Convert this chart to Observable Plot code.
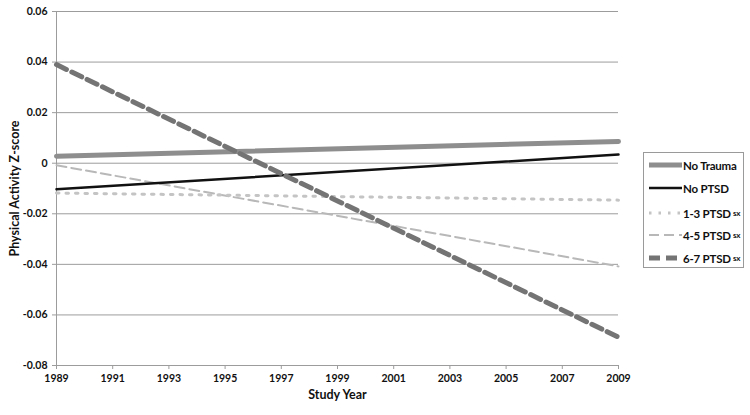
<!DOCTYPE html>
<html>
<head>
<meta charset="utf-8">
<script src="https://cdn.jsdelivr.net/npm/d3@7"></script>
<script src="https://cdn.jsdelivr.net/npm/@observablehq/plot@0.6"></script>
<style>
  body { margin: 0; background: #fff; }
  #wrap { position: relative; width: 750px; height: 415px; font-family: Lato, "Liberation Sans", sans-serif; }
  #legend { position: absolute; left: 643px; top: 152px; width: 101px; height: 116px; border: 1px solid #9a9a9a; box-sizing: border-box; background: #fff; }
  .item { position: absolute; left: 4px; height: 14px; display: flex; align-items: center; font-weight: bold; font-size: 11.5px; color: #111; white-space: nowrap; letter-spacing: -0.2px; }
  .item svg { margin-right: 1px; }
  .sx { font-size: 8px; margin-left: 2px; }
</style>
</head>
<body>
<div id="wrap"></div>
<script>
const years = [1989, 2009];
const seriesNames = ["No Trauma", "No PTSD", "1-3 PTSD sx", "4-5 PTSD sx", "6-7 PTSD sx"];
const noTrauma = [0.0028, 0.0086];
const noPTSD = [-0.0103, 0.0034];
const ptsd13 = [-0.0118, -0.0146];
const ptsd45 = [-0.0008, -0.0408];
const ptsd67 = [0.0390, -0.0688];
const xTicks = [1989, 1991, 1993, 1995, 1997, 1999, 2001, 2003, 2005, 2007, 2009];
const yTicks = [0.06, 0.04, 0.02, 0, -0.02, -0.04, -0.06, -0.08];

const styles = [
  {stroke: "#8e8e8e", strokeWidth: 5, dash: null},
  {stroke: "#111111", strokeWidth: 2.5, dash: null},
  {stroke: "#c4c4c4", strokeWidth: 3, dash: "2.5,7"},
  {stroke: "#b8b8b8", strokeWidth: 2, dash: "10,5"},
  {stroke: "#747474", strokeWidth: 5, dash: "11,6"}
];
const values = [noTrauma, noPTSD, ptsd13, ptsd45, ptsd67];
const rows = (i) => years.map((y, j) => ({year: y, value: values[i][j], series: seriesNames[i]}));

const drawOrder = [3, 2, 1, 0, 4];
const lineMarks = drawOrder.map(i => Plot.line(rows(i), {
  x: "year", y: "value",
  stroke: styles[i].stroke,
  strokeWidth: styles[i].strokeWidth,
  strokeDasharray: styles[i].dash
}));

const chart = Plot.plot({
  width: 750,
  height: 415,
  marginLeft: 56,
  marginRight: 132,
  marginTop: 11,
  marginBottom: 50,
  style: {fontFamily: "Lato, 'Liberation Sans', sans-serif", fontWeight: "bold", fontSize: "10.5px", color: "#111", background: "#fff"},
  x: {domain: [1989, 2009]},
  y: {domain: [-0.08, 0.06]},
  marks: [
    Plot.ruleY(yTicks, {stroke: "#9c9c9c", strokeWidth: 1}),
    Plot.ruleX([1989], {stroke: "#9c9c9c", strokeWidth: 1}),
    Plot.axisX({ticks: xTicks, tickFormat: d => String(d), tickSize: 4, tickPadding: 5, stroke: "#9c9c9c", label: "Study Year", labelAnchor: "center", labelArrow: "none", labelOffset: 33}),
    Plot.axisY({ticks: yTicks, tickFormat: d => d === 0 ? "0" : d.toFixed(2), tickSize: 4, tickPadding: 5, stroke: "#9c9c9c", label: "Physical Activity Z-score", labelAnchor: "center", labelArrow: "none", labelOffset: 46}),
    ...lineMarks
  ]
});

const wrap = document.getElementById("wrap");
wrap.appendChild(chart);
d3.select(chart).selectAll("g[aria-label='x-axis label'] text, g[aria-label='y-axis label'] text").style("font-size", "12.5px");

const legend = document.createElement("div");
legend.id = "legend";
const tops = [5, 28, 53, 75, 98];
seriesNames.forEach((name, i) => {
  const item = document.createElement("div");
  item.className = "item";
  item.style.top = tops[i] + "px";
  const s = styles[i];
  const svg = d3.create("svg").attr("width", 34).attr("height", 14);
  svg.append("line").attr("x1", 1).attr("x2", 34).attr("y1", 7).attr("y2", 7)
    .attr("stroke", s.stroke).attr("stroke-width", s.strokeWidth)
    .attr("stroke-dasharray", s.dash);
  item.appendChild(svg.node());
  const m = name.match(/^(.*) sx$/);
  const label = document.createElement("span");
  if (m) {
    label.textContent = m[1];
    const sx = document.createElement("span");
    sx.className = "sx";
    sx.textContent = "sx";
    item.appendChild(label);
    item.appendChild(sx);
  } else {
    label.textContent = name;
    item.appendChild(label);
  }
  legend.appendChild(item);
});
wrap.appendChild(legend);
</script>
</body>
</html>
